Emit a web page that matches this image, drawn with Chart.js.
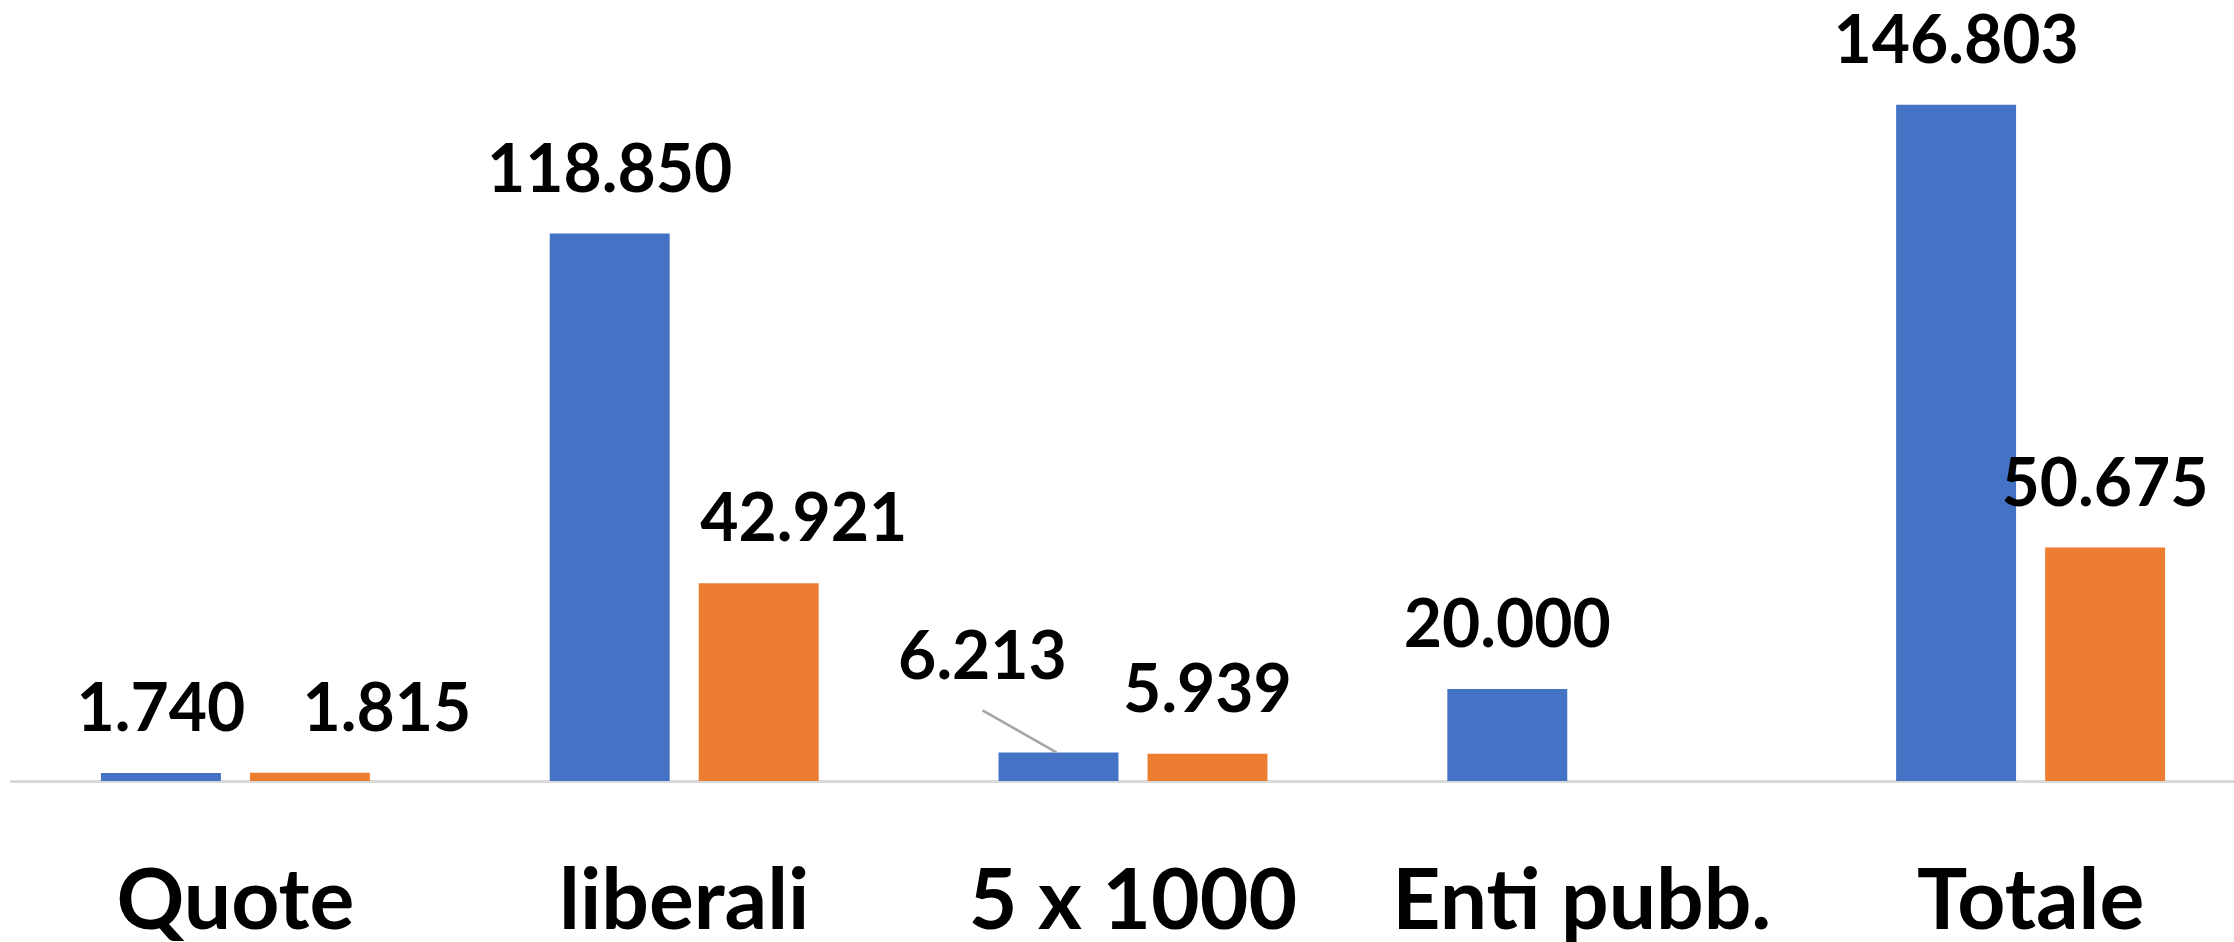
<!DOCTYPE html>
<html lang="it">
<head>
<meta charset="utf-8">
<title>Entrate</title>
<script src="https://cdn.jsdelivr.net/npm/chart.js"></script>
<style>
  html, body { margin: 0; padding: 0; background: #fff; overflow: hidden; }
  #wrap { position: relative; width: 2270px; height: 1023px; }
</style>
</head>
<body>
<div id="wrap"><canvas id="chart"></canvas></div>
<script>
// Dati
const categorie = ['Quote', 'liberali', '5 x 1000', 'Enti pubb.', 'Totale'];
const serieBlu = [1740, 118850, 6213, 20000, 146803];
const serieArancio = [1815, 42921, 5939, null, 50675];

// Spostamenti manuali delle etichette (px), come nell'originale
const spostaBluX = [0, 0, -76, 0, 0];
const spostaBluY = [0, 0, -31, 0, 0];
const spostaArancioX = [77, 45, 0, 0, 0];
const spostaArancioY = [0, 0, 0, 0, 0];

const fmt = v => String(v).replace(/\B(?=(\d{3})+(?!\d))/g, '.');

// Etichette dati sopra le barre (+ linea guida se spostata)
const etichette = {
  id: 'etichette',
  afterDatasetsDraw(chart) {
    const ctx = chart.ctx;
    const spost = [[spostaBluX, spostaBluY], [spostaArancioX, spostaArancioY]];
    ctx.save();
    ctx.font = 'bold 66px Lato';
    ctx.textAlign = 'center';
    ctx.textBaseline = 'alphabetic';
    chart.data.datasets.forEach((ds, i) => {
      const meta = chart.getDatasetMeta(i);
      meta.data.forEach((bar, j) => {
        const v = ds.data[j];
        if (v === null || v === undefined) return;
        const dx = spost[i][0][j], dy = spost[i][1][j];
        const x = bar.x + dx;
        const y = bar.y - 42 + dy;
        if (dx !== 0 && dy !== 0) {
          ctx.strokeStyle = '#A6A6A6';
          ctx.lineWidth = 2.5;
          ctx.beginPath();
          ctx.moveTo(x, y + 31);
          ctx.lineTo(bar.x - 2, bar.y);
          ctx.stroke();
        }
        ctx.fillStyle = '#000';
        ctx.fillText(fmt(v), x, y);
      });
    });
    ctx.restore();
  }
};

new Chart(document.getElementById('chart').getContext('2d'), {
  type: 'bar',
  data: {
    labels: categorie,
    datasets: [
      { label: 'Serie 1', data: serieBlu, backgroundColor: '#4472C4' },
      { label: 'Serie 2', data: serieArancio, backgroundColor: '#ED7D31' }
    ]
  },
  options: {
    responsive: true,
    maintainAspectRatio: false,
    animation: false,
    categoryPercentage: 0.664,
    barPercentage: 0.805,
    layout: { padding: { left: 11, right: 15, top: 44, bottom: 0 } },
    plugins: { legend: { display: false }, tooltip: { enabled: false } },
    scales: {
      x: {
        grid: { display: false, drawTicks: false },
        border: { display: true, color: '#D9D9D9', width: 3 },
        ticks: {
          color: '#000',
          padding: 81,
          maxRotation: 0,
          autoSkip: false,
          font: { family: 'Lato', weight: 'bold', size: 84, lineHeight: 0.952 }
        }
      },
      y: { display: false, min: 0, max: 160000 }
    }
  },
  plugins: [etichette]
});
</script>
</body>
</html>
